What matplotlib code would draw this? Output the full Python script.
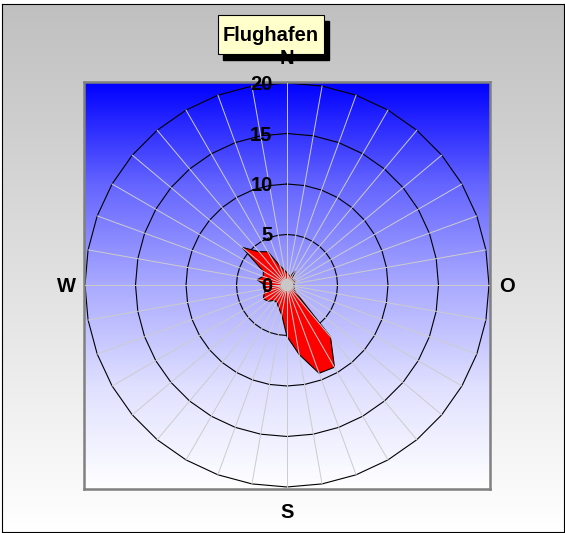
import numpy as np
import matplotlib
matplotlib.use("Agg")
import matplotlib.pyplot as plt
from matplotlib.colors import LinearSegmentedColormap
from matplotlib.patches import Rectangle, Circle

plt.rcParams["font.family"] = ["Liberation Sans", "DejaVu Sans"]

# Windrichtungen (Grad, im Uhrzeigersinn ab Nord) und Häufigkeiten
richtungen = [0, 10, 20, 30, 40, 50, 60, 70, 80, 90, 100, 110,
              120, 130, 140, 150, 160, 170, 180, 190, 200, 210, 220, 230,
              240, 250, 260, 270, 280, 290, 300, 310, 320, 330, 340, 350]
haeufigkeit = [1.2, 1.0, 0.9, 1.6, 0.8, 0.8, 0.9, 0.8, 0.7, 0.7, 0.7, 0.8,
               0.8, 1.1, 6.7, 9.4, 9.3, 7.0, 5.1, 3.0, 2.4, 2.0, 2.0, 2.5,
               2.7, 2.4, 2.1, 2.2, 3.0, 2.5, 2.7, 5.8, 4.3, 3.8, 2.0, 1.5]
ringe = [5, 10, 15, 20]
ring_beschriftung = ["0", "5", "10", "15", "20"]
himmelsrichtungen = ["N", "O", "S", "W"]
titel = "Flughafen"

W, H = 565, 533
fig = plt.figure(figsize=(W / 100, H / 100), dpi=100)
fig.patch.set_facecolor("white")

# grauer Verlauf hinter allem
bg = fig.add_axes([2 / W, 1 - 532 / H, 562 / W, 528 / H], zorder=-2)
grau = LinearSegmentedColormap.from_list("grau", ["#c0c0c0", "#ffffff"])
bg.imshow(np.linspace(0, 1, 256).reshape(-1, 1), cmap=grau, aspect="auto",
          extent=[0, 1, 0, 1])
bg.set_xticks([])
bg.set_yticks([])
for s in bg.spines.values():
    s.set_color("black")
    s.set_linewidth(0.8)

# Diagrammfläche mit Blauverlauf
ax = fig.add_axes([84 / W, 1 - 489 / H, 406 / W, 407 / H])
ext = [-20.1, 20.1, -20.2, 20.1]
blau = LinearSegmentedColormap.from_list(
    "blau", [(0, "#0000ff"), (0.25, "#6464ff"), (0.5, "#aaaaff"),
             (0.75, "#e0e0ff"), (1, "#ffffff")])
ax.imshow(np.linspace(0, 1, 256).reshape(-1, 1), cmap=blau, aspect="auto",
          extent=ext, zorder=0)
ax.set_xlim(ext[0], ext[1])
ax.set_ylim(ext[2], ext[3])
ax.set_xticks([])
ax.set_yticks([])
for s in ax.spines.values():
    s.set_color("#808080")
    s.set_linewidth(1.8)

theta = np.deg2rad(richtungen)
sx, sy = np.sin(theta), np.cos(theta)

# Ringe als Vielecke
for r in ringe:
    ax.plot(np.append(r * sx, r * sx[0]), np.append(r * sy, r * sy[0]),
            color="black", lw=0.8, zorder=1)

# Windrose
werte = np.array(haeufigkeit)
ax.fill(werte * sx, werte * sy, facecolor="red", edgecolor="black", lw=0.8, zorder=2)

# Strahlen
for x, y in zip(sx, sy):
    ax.plot([0, ringe[-1] * x], [0, ringe[-1] * y], color="#cccccc", lw=0.7, zorder=3)
ax.add_patch(Circle((0, 0), 0.55, color="#c8c8c8", zorder=3))

# Achsenbeschriftung
for r, txt in zip([0] + ringe, ring_beschriftung):
    ax.annotate(txt, (0, r), xytext=(-14.5, -7), textcoords="offset pixels",
                ha="right", va="baseline", fontsize=14.5, fontweight="bold",
                zorder=4, annotation_clip=False)

pos = {"O": (20, 0, 18, -7), "S": (0, -20, 0, -31), "W": (-20, 0, -19, -7)}
for name in himmelsrichtungen[1:]:
    x, y, dx, dy = pos[name]
    ax.annotate(name, (x, y), xytext=(dx, dy), textcoords="offset pixels",
                ha="center", va="baseline", fontsize=14.5, fontweight="bold",
                annotation_clip=False)

# Titel mit Schatten
fig.patches.append(Rectangle((223 / W, 1 - 60 / H), 106 / W, 39 / H,
                             transform=fig.transFigure, facecolor="black",
                             edgecolor="black", zorder=5))
fig.patches.append(Rectangle((218 / W, 1 - 54 / H), 106 / W, 39 / H,
                             transform=fig.transFigure, facecolor="#ffffcc",
                             edgecolor="black", lw=0.8, zorder=6))
fig.text(271 / W, 1 - 40.7 / H, titel, ha="center", va="baseline",
         fontsize=14.5, fontweight="bold", zorder=7)
# N liegt über dem Titelkasten
fig.text(287 / W, 1 - 63.5 / H, himmelsrichtungen[0], ha="center", va="baseline",
         fontsize=14.5, fontweight="bold", zorder=8)

plt.savefig("out.png", dpi=100)
